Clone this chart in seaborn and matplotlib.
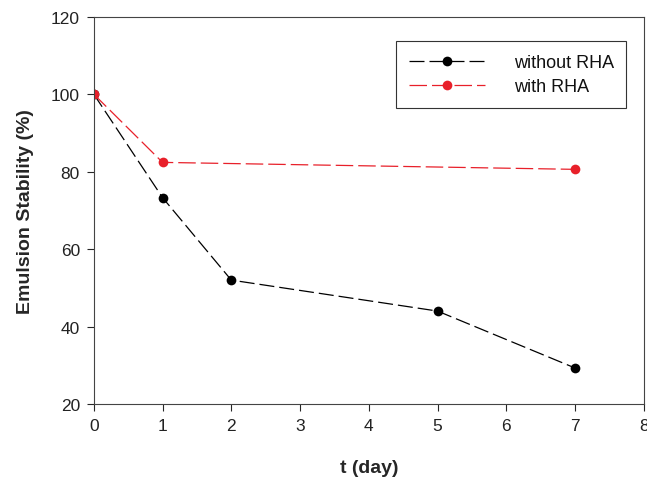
import numpy as np
import pandas as pd
import matplotlib
matplotlib.use("Agg")
import matplotlib.pyplot as plt
import seaborn as sns

sns.set_style("ticks")
plt.rcParams['font.family'] = ['Liberation Sans', 'DejaVu Sans']

# data
days_without = [0, 1, 2, 5, 7]
stab_without = [100, 73.3, 52.0, 44.0, 29.3]
days_with = [0, 1, 7]
stab_with = [100, 82.4, 80.6]
labels = ["without RHA", "with RHA"]

df = pd.concat([
    pd.DataFrame({"t": days_without, "ES": stab_without, "series": labels[0]}),
    pd.DataFrame({"t": days_with, "ES": stab_with, "series": labels[1]}),
])

fig = plt.figure(figsize=(6.47, 4.81), dpi=100)
ax = fig.add_axes([0.145, 0.158, 0.85, 0.805])

sns.lineplot(data=df, x="t", y="ES", hue="series", style="series",
             palette=["black", "#e8202a"], dashes=[(12, 4), (14, 4)],
             markers=["o", "o"], markersize=7, markeredgewidth=0,
             linewidth=0.9, ax=ax, sort=False)

ax.set_xlim(0, 8)
ax.set_ylim(20, 120)
ax.set_xticks(range(0, 9))
ax.set_yticks(range(20, 121, 20))
ax.tick_params(direction="out", length=5, width=0.8, labelsize=12.5, pad=5,
               labelcolor="#222222")
for s in ax.spines.values():
    s.set_linewidth(0.8)
    s.set_color("#444444")

ax.set_xlabel("t (day)", fontsize=14, fontweight="bold", labelpad=19)
ax.set_ylabel("Emulsion Stability (%)", fontsize=14, fontweight="bold", labelpad=12)

leg = ax.legend(loc="upper right", bbox_to_anchor=(0.985, 0.96), fontsize=13,
                handlelength=4.2, handletextpad=1.6, borderpad=0.7,
                labelspacing=0.4, fancybox=False, framealpha=1,
                edgecolor="#333333")
leg.get_frame().set_linewidth(0.8)
for t in leg.get_texts():
    t.set_color("#111111")

fig.savefig("out.png", dpi=100)
